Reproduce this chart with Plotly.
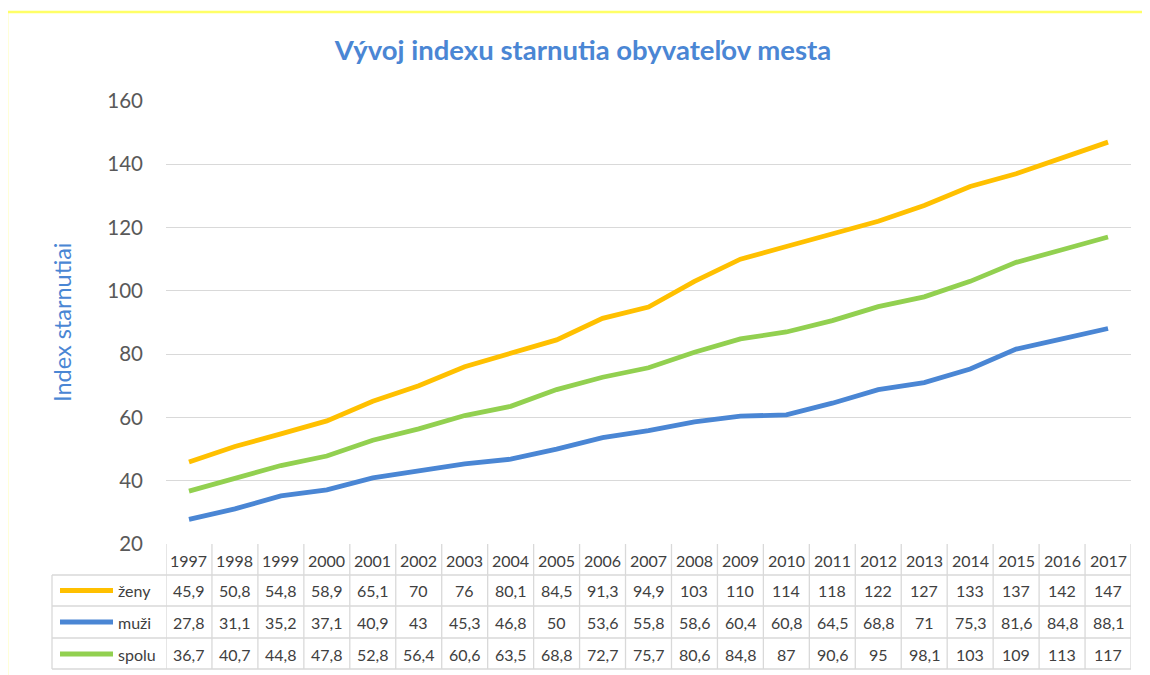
import plotly.graph_objects as go

years = list(range(1997, 2018))
zeny = [45.9, 50.8, 54.8, 58.9, 65.1, 70, 76, 80.1, 84.5, 91.3, 94.9,
        103, 110, 114, 118, 122, 127, 133, 137, 142, 147]
muzi = [27.8, 31.1, 35.2, 37.1, 40.9, 43, 45.3, 46.8, 50, 53.6, 55.8,
        58.6, 60.4, 60.8, 64.5, 68.8, 71, 75.3, 81.6, 84.8, 88.1]
spolu = [36.7, 40.7, 44.8, 47.8, 52.8, 56.4, 60.6, 63.5, 68.8, 72.7, 75.7,
         80.6, 84.8, 87, 90.6, 95, 98.1, 103, 109, 113, 117]

series = [("ženy", zeny, "#FFC000"),
          ("muži", muzi, "#4A86D4"),
          ("spolu", spolu, "#92D050")]

OFF = 8  # page body margin
W, H = 1150 - OFF, 675 - OFF
L, R, T, B = 166 - OFF, 19, 101 - OFF, 131
PW, PH = W - L - R, H - T - B
FONT = "Lato"
GRID = "#D9D9D9"
TXT = "#404040"


def px(x):  # reference pixel -> paper x
    return (x - OFF - L) / PW


def py(y):  # reference pixel -> paper y
    return (H - B - (y - OFF)) / PH


def fmt(v):
    return str(int(v)) if float(v).is_integer() else str(v).replace(".", ",")


fig = go.Figure()
for name, vals, col in series:
    fig.add_trace(go.Scatter(x=years, y=vals, mode="lines", name=name,
                             line=dict(color=col, width=4.8),
                             showlegend=False, hoverinfo="x+y+name"))

shapes = []
annotations = []

# data table under the chart
row_lines = [575, 606, 638, 669]
row_mid = [590.5, 622, 654]
for yl in row_lines:
    shapes.append(dict(type="line", xref="paper", yref="paper",
                       x0=px(52), x1=1, y0=py(yl), y1=py(yl),
                       line=dict(color=GRID, width=1.3)))
for i in range(len(years) + 1):
    xb = years[0] - 0.5 + i
    shapes.append(dict(type="line", xref="x", yref="paper",
                       x0=xb, x1=xb, y0=0, y1=py(669),
                       line=dict(color=GRID, width=1.3)))
shapes.append(dict(type="line", xref="paper", yref="paper",
                   x0=px(52), x1=px(52), y0=py(575), y1=py(669),
                   line=dict(color=GRID, width=1.3)))

cell_font = dict(family=FONT, size=16, color=TXT)
for yr in years:
    annotations.append(dict(x=yr, y=py(560), xref="x", yref="paper",
                            text=str(yr), showarrow=False, yanchor="middle",
                            font=cell_font))

for (name, vals, col), ym in zip(series, row_mid):
    for yr, v in zip(years, vals):
        annotations.append(dict(x=yr, y=py(ym), xref="x", yref="paper",
                                text=fmt(v), showarrow=False, yanchor="middle",
                                font=cell_font))
    shapes.append(dict(type="line", xref="paper", yref="paper",
                       x0=px(60), x1=px(113), y0=py(ym), y1=py(ym),
                       line=dict(color=col, width=5)))
    annotations.append(dict(x=px(116), y=py(ym), xref="paper", yref="paper",
                            text=name, showarrow=False, xanchor="left",
                            yanchor="middle", font=cell_font))

# axis title
annotations.append(dict(x=px(62), y=py(322), xref="paper", yref="paper",
                        text="Index starnutiai", textangle=-90, showarrow=False,
                        xanchor="center", yanchor="middle",
                        font=dict(family=FONT, size=23.5, color="#4A86D4")))

# chart frame (yellow outline)
shapes.append(dict(type="rect", xref="paper", yref="paper",
                   x0=px(7), x1=px(1170), y0=py(12), y1=py(700),
                   line=dict(color="#FFFF66", width=2.5)))

fig.update_layout(
    width=W, height=H,
    margin=dict(l=L, r=R, t=T, b=B),
    paper_bgcolor="white", plot_bgcolor="white",
    title=dict(text="<b>Vývoj indexu starnutia obyvateľov mesta</b>",
               x=(583 - OFF) / W, xanchor="center",
               y=1 - (50 - OFF) / H, yanchor="middle",
               font=dict(family=FONT, size=27.5, color="#4A86D4")),
    xaxis=dict(range=[years[0] - 0.5, years[-1] + 0.5], showticklabels=False,
               showgrid=False, zeroline=False, showline=False, ticks=""),
    yaxis=dict(range=[20, 160], dtick=20, tick0=20, showgrid=True,
               gridcolor=GRID, gridwidth=1.3, zeroline=False, showline=False,
               ticks="", ticklabelstandoff=22,
               tickfont=dict(family=FONT, size=20.5, color="#595959")),
    shapes=shapes,
    annotations=annotations,
)

fig.write_html("out.html")
